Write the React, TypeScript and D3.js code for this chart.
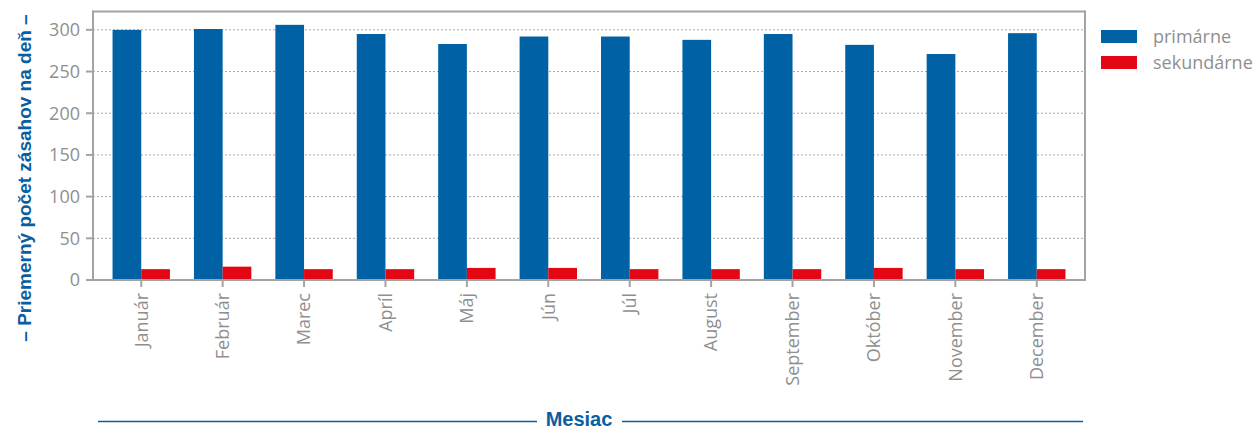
import React from "react";
import * as d3 from "d3";

const months = ["Január", "Február", "Marec", "Apríl", "Máj", "Jún", "Júl", "August", "September", "Október", "November", "December"];
const primarne = [300, 301, 306, 295, 283, 292, 292, 288, 295, 282, 271, 296];
const sekundarne = [13, 16, 13, 13, 14.5, 14.5, 13, 13, 13, 14.5, 13, 13];
const seriesNames = ["primárne", "sekundárne"];
const yTicks = [0, 50, 100, 150, 200, 250, 300];
const yTitle = "– Priemerný počet zásahov na deň –";
const xTitle = "Mesiac";

const W = 1259;
const H = 428;
const BLUE = "#0062a4";
const RED = "#e30613";
const TITLE_BLUE = "#0a5e9f";
const GRAY_TEXT = "#8f8f8f";
const AXIS = "#a3a3a3";
const FONT = "'Open Sans', sans-serif";
const TITLE_FONT = "'Liberation Sans', Arial, sans-serif";

export default function App() {
  const left = 93, right = 1085, top = 11.5, bottom = 280;
  const x = d3.scaleBand<string>().domain(months).range([left, right]).paddingInner(0.295).paddingOuter(0.24);
  const sub = d3.scaleBand<string>().domain(seriesNames).range([0, x.bandwidth()]).padding(0);
  const y = d3.scaleLinear().domain([0, 322]).range([bottom, top]);
  const series = [primarne, sekundarne];
  const colors = [BLUE, RED];

  return (
    <div style={{ position: "absolute", left: 0, top: 0 }}>
      <svg width={W} height={H} style={{ display: "block", background: "#fff" }}>
        {/* gridlines */}
        {yTicks.filter((t) => t > 0).map((t) => (
          <line key={"g" + t} x1={left} x2={right} y1={y(t)} y2={y(t)} stroke="#a8a8a8" strokeWidth={1} strokeDasharray="2,2" />
        ))}
        {/* bars */}
        {series.map((vals, si) =>
          months.map((m, i) => (
            <rect
              key={si + "-" + m}
              x={(x(m) as number) + (sub(seriesNames[si]) as number)}
              y={y(vals[i])}
              width={sub.bandwidth()}
              height={y(0) - y(vals[i])}
              fill={colors[si]}
            />
          ))
        )}
        {/* frame */}
        <line x1={left} x2={right} y1={top} y2={top} stroke={AXIS} strokeWidth={2} />
        <line x1={right} x2={right} y1={top - 1} y2={bottom + 1} stroke={AXIS} strokeWidth={2} />
        <line x1={left} x2={left} y1={top - 1} y2={bottom + 1} stroke={AXIS} strokeWidth={2} />
        <line x1={left - 1} x2={right + 1} y1={bottom} y2={bottom} stroke={AXIS} strokeWidth={2} />
        {/* y ticks */}
        {yTicks.map((t) => (
          <g key={"y" + t}>
            <line x1={left - 7} x2={left} y1={y(t)} y2={y(t)} stroke={AXIS} strokeWidth={2} />
            <text x={left - 13} y={y(t)} dy="0.35em" textAnchor="end" fontFamily={FONT} fontSize={18} fill={GRAY_TEXT}>
              {t}
            </text>
          </g>
        ))}
        {/* x ticks */}
        {months.map((m) => {
          const cx = (x(m) as number) + x.bandwidth() / 2;
          return (
            <g key={"x" + m}>
              <line x1={cx} x2={cx} y1={bottom} y2={bottom + 7} stroke={AXIS} strokeWidth={2} />
              <text
                transform={`translate(${cx},${bottom + 13}) rotate(-90)`}
                dy="0.35em"
                textAnchor="end"
                fontFamily={FONT}
                fontSize={18}
                fill={GRAY_TEXT}
              >
                {m}
              </text>
            </g>
          );
        })}
        {/* y title */}
        <text
          transform={`translate(31,178) rotate(-90)`}
          textAnchor="middle"
          fontFamily={TITLE_FONT}
          fontWeight="bold"
          fontSize={19}
          fill={TITLE_BLUE}
        >
          {yTitle}
        </text>
        {/* x title */}
        <line x1={98} x2={537} y1={421.5} y2={421.5} stroke={TITLE_BLUE} strokeWidth={1.6} />
        <line x1={622} x2={1083} y1={421.5} y2={421.5} stroke={TITLE_BLUE} strokeWidth={1.6} />
        <text x={579} y={425.5} textAnchor="middle" fontFamily={TITLE_FONT} fontWeight="bold" fontSize={20} fill={TITLE_BLUE}>
          {xTitle}
        </text>
        {/* legend */}
        {seriesNames.map((s, i) => (
          <g key={"l" + s} transform={`translate(1101,${30 + i * 26})`}>
            <rect x={0} y={0} width={36} height={13} fill={colors[i]} />
            <text x={52} y={6.5} dy="0.35em" fontFamily={FONT} fontSize={18} fill={GRAY_TEXT}>
              {s}
            </text>
          </g>
        ))}
      </svg>
    </div>
  );
}
